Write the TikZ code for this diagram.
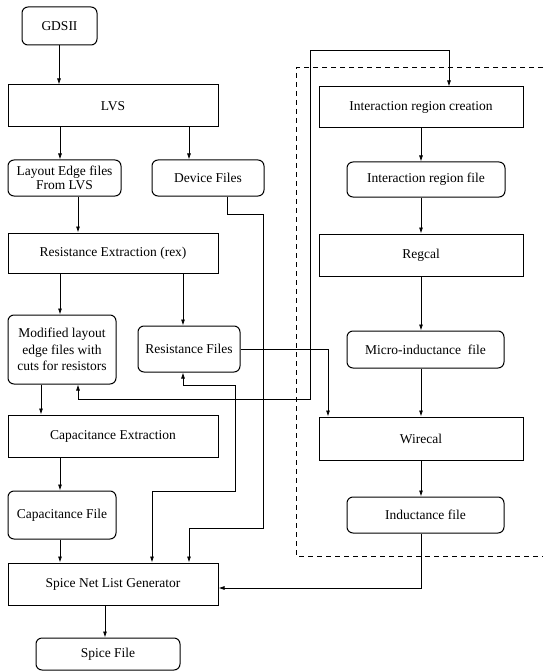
\documentclass[tikz,border=0pt]{standalone}
\usepackage{fontspec}
\setmainfont{Liberation Serif}
\usetikzlibrary{arrows.meta, positioning}

\begin{document}
\begin{tikzpicture}[
    x=1pt, y=-1pt,
    box/.style={rectangle, draw, line width=1pt, minimum height=42pt, minimum width=210pt,
                inner sep=1pt, align=center, font=\fontsize{13.5}{15}\selectfont},
    file/.style={box, rounded corners=6pt},
    arr/.style={-{Latex[length=6pt, width=4pt]}, line width=0.8pt},
    biarr/.style={{Latex[length=6pt, width=4pt]}-{Latex[length=6pt, width=4pt]}, line width=0.8pt},
    region/.style={line width=1pt, dash pattern=on 5pt off 4pt},
]
    \useasboundingbox (0,0) rectangle (543,671);

    \node[file, minimum width=75pt, minimum height=38pt] (gds) at (59.5,26) {GDSII};
    \node[box] (lvs) at (113,106) {LVS};
    \node[file, minimum width=113pt, minimum height=36pt, font=\fontsize{13.5}{14}\selectfont] (edge) at (64.5,178) {Layout Edge files\\From LVS};
    \node[file, minimum width=112pt, minimum height=36pt] (dev) at (208,178) {Device Files};
    \node[box, minimum height=40pt] (rex) at (113,253) {Resistance Extraction (rex)};
    \node[file, minimum width=108pt, minimum height=69pt, font=\fontsize{13.5}{16.5}\selectfont] (mod) at (62,349.5) {Modified layout\\edge files with\\cuts for resistors};
    \node[file, minimum width=102pt, minimum height=46pt] (res) at (189,349) {Resistance Files};
    \node[box] (capx) at (113,436) {Capacitance Extraction};
    \node[file, minimum width=108pt, minimum height=48pt] (capf) at (62,515) {Capacitance File};
    \node[box] (spice) at (113,584) {Spice Net List Generator};
    \node[file, minimum width=144pt, minimum height=32pt] (spf) at (108,654) {Spice File};

    \node[box, minimum width=204pt, minimum height=41pt] (irc) at (421,107.5) {Interaction region creation};
    \node[file, minimum width=158pt, minimum height=35pt] (irf) at (426,179.5) {Interaction region file};
    \node[box, minimum width=204pt] (reg) at (421,255) {Regcal};
    \node[file, minimum width=157pt, minimum height=37pt] (micro) at (425.5,349.5) {Micro-inductance\ \ file};
    \node[box, minimum width=204pt, minimum height=43pt] (wire) at (421,438.5) {Wirecal};
    \node[file, minimum width=157pt, minimum height=36pt] (ind) at (425.5,515) {Inductance file};

    \draw[region] (543,68) -- (296,68) -- (296,556) -- (543,556);

    \draw[arr] (gds.south -| 59,0) -- (lvs.north -| 59,0);
    \draw[arr] (lvs.south -| 60,0) -- (edge.north -| 60,0);
    \draw[arr] (lvs.south -| 189,0) -- (dev.north -| 189,0);
    \draw[arr] (edge.south -| 78,0) -- (rex.north -| 78,0);
    \draw[arr] (rex.south -| 60,0) -- (mod.north -| 60,0);
    \draw[arr] (rex.south -| 183,0) -- (res.north -| 183,0);
    \draw[arr] (mod.south -| 41,0) -- (capx.north -| 41,0);
    \draw[arr] (capx.south -| 60,0) -- (capf.north -| 60,0);
    \draw[arr] (capf.south -| 60,0) -- (spice.north -| 60,0);
    \draw[arr] (spice.south -| 105,0) -- (spf.north -| 105,0);

    \draw[arr] (dev.south -| 227,0) |- (263,214) |- (189,528) -- (spice.north -| 189,0);
    \draw[biarr] (mod.south -| 78,0) |- (310,399) |- (449,50) -- (irc.north -| 449,0);
    \draw[biarr] (res.south -| 183,0) |- (235,385) |- (152,491) -- (spice.north -| 152,0);
    \draw[arr] (res.east) -| (wire.north -| 328,0);

    \draw[arr] (irc.south -| 421,0) -- (irf.north -| 421,0);
    \draw[arr] (irf.south -| 421,0) -- (reg.north -| 421,0);
    \draw[arr] (reg.south -| 421,0) -- (micro.north -| 421,0);
    \draw[arr] (micro.south -| 421,0) -- (wire.north -| 421,0);
    \draw[arr] (wire.south -| 421,0) -- (ind.north -| 421,0);
    \draw[arr] (ind.south -| 421,0) |- (spice.east |- 0,588);
\end{tikzpicture}
\end{document}
